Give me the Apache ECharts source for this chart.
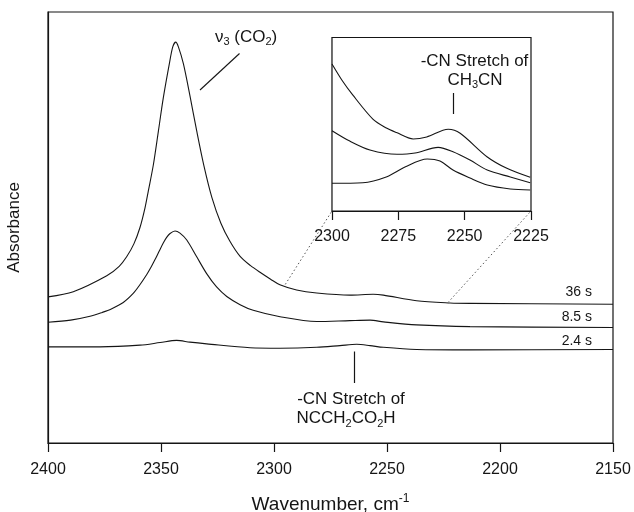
<!DOCTYPE html>
<html>
<head>
<meta charset="utf-8">
<script src="https://cdn.jsdelivr.net/npm/echarts@6/dist/echarts.min.js"></script>
<style>
html,body{margin:0;padding:0;background:#fff;}
#c{width:634px;height:512px;}
</style>
</head>
<body>
<div id="c"></div>
<script>
// Main spectra: [wavenumber (cm-1), absorbance (arb. units)]
const spec36s = [[2400,0.339],[2388.8,0.351],[2374.0,0.388],[2368.5,0.410],[2365.2,0.432],[2362.0,0.462],[2359.3,0.500],[2357.1,0.545],[2355.6,0.585],[2353.4,0.645],[2351.2,0.722],[2349.0,0.800],[2346.3,0.880],[2344.8,0.919],[2343.5,0.930],[2342.3,0.919],[2340.1,0.880],[2337.2,0.806],[2334.2,0.724],[2331.0,0.643],[2327.5,0.570],[2323.5,0.510],[2319.5,0.468],[2315.0,0.433],[2310.5,0.412],[2306.2,0.396],[2301.5,0.380],[2297.4,0.367],[2290.0,0.355],[2281.1,0.348],[2266.4,0.343],[2256.1,0.345],[2251.6,0.343],[2236.9,0.330],[2222.1,0.325],[2213.3,0.324],[2150,0.322]];
const spec8_5s = [[2400,0.280],[2390,0.285],[2381.4,0.294],[2376.0,0.303],[2372.0,0.311],[2366.7,0.326],[2362.3,0.347],[2359.5,0.366],[2356.3,0.391],[2354.5,0.407],[2352.7,0.425],[2351.0,0.443],[2349.0,0.464],[2347.5,0.477],[2346.0,0.486],[2343.8,0.492],[2341.6,0.487],[2338.6,0.471],[2334.2,0.432],[2329.8,0.393],[2325.4,0.362],[2320.9,0.340],[2315.0,0.321],[2309.2,0.308],[2297.3,0.293],[2281.1,0.282],[2266.4,0.284],[2257.5,0.285],[2251.6,0.281],[2236.9,0.274],[2213.3,0.270],[2150,0.268]];
const spec2_4s = [[2400,0.223],[2377,0.223],[2359.3,0.227],[2350.4,0.233],[2343.1,0.238],[2337.2,0.234],[2329.8,0.230],[2310.6,0.221],[2297.3,0.220],[2281.1,0.222],[2270.8,0.226],[2263.4,0.229],[2257.5,0.226],[2251.6,0.222],[2236.9,0.217],[2213.3,0.216],[2150,0.217]];
// Inset (2300-2225 cm-1, rescaled)
const inset36s = [[2300,0.847],[2296.3,0.755],[2292.2,0.669],[2284.5,0.528],[2279.5,0.478],[2275.7,0.452],[2269.4,0.415],[2264.3,0.427],[2256.2,0.471],[2251.7,0.448],[2241.6,0.313],[2234.1,0.246],[2225.3,0.194]];
const inset8_5s = [[2300,0.463],[2293.3,0.403],[2285.7,0.352],[2275.5,0.327],[2268.7,0.334],[2260.0,0.367],[2254.4,0.342],[2248.0,0.294],[2241.5,0.236],[2232.8,0.196],[2225.3,0.163]];
const inset2_4s = [[2300,0.160],[2288.4,0.163],[2279.3,0.198],[2272.5,0.254],[2264.1,0.300],[2259.3,0.288],[2254.4,0.236],[2248.0,0.190],[2241.5,0.150],[2232.8,0.127],[2225.3,0.121]];
const seriesNames = ['36 s','8.5 s','2.4 s'];
const mainTicks = [2400,2350,2300,2250,2200,2150];
const insetTicks = [2300,2275,2250,2225];
// connector anchors: main-plot point and inset corner
const connMain = [[2295,0.368],[2223,0.326]];
const connInset = [[2300,0],[2225,0]];

const FONT = '"Liberation Sans", Arial, Helvetica, sans-serif';
const INK = '#151515';
const chart = echarts.init(document.getElementById('c'), null, {renderer:'canvas'});

function lineSeries(name, data, xi, yi){
  return {name, type:'line', xAxisIndex:xi, yAxisIndex:yi, data, showSymbol:false, smooth:0.3,
    lineStyle:{color:INK, width:1.1}, silent:true, z:3, animation:false};
}

chart.setOption({
  animation:false,
  backgroundColor:'#fff',
  textStyle:{fontFamily:FONT, color:INK},
  grid:[
    {left:48, right:21, top:12, bottom:69, show:true, borderColor:INK, borderWidth:1.2, backgroundColor:'#fff', outerBoundsMode:'none', containLabel:false},
    {left:332, right:103, top:37.5, bottom:301, show:true, borderColor:INK, borderWidth:1.2, backgroundColor:'#fff', z:1, outerBoundsMode:'none', containLabel:false}
  ],
  xAxis:[
    {type:'value', gridIndex:0, min:2150, max:2400, interval:50, inverse:true,
     axisLine:{show:true, lineStyle:{color:INK, width:1.2}},
     axisTick:{show:true, inside:false, length:9, lineStyle:{color:INK, width:1.2}},
     axisLabel:{fontSize:16, margin:19, color:INK, fontFamily:FONT, formatter:v=>mainTicks.includes(v)?String(v):''},
     splitLine:{show:false},
     name:'{a|Wavenumber, cm}{p|-1}', nameLocation:'middle', nameGap:50,
     nameTextStyle:{rich:{a:{fontSize:19, fontFamily:FONT, color:INK}, p:{fontSize:12, fontFamily:FONT, color:INK, padding:[0,0,12,0]}}}},
    {type:'value', gridIndex:1, min:2225, max:2300, interval:25, inverse:true,
     axisLine:{show:true, lineStyle:{color:INK, width:1.2}},
     axisTick:{show:true, inside:false, length:9, lineStyle:{color:INK, width:1.2}},
     axisLabel:{fontSize:16, margin:18, color:INK, fontFamily:FONT, formatter:v=>insetTicks.includes(v)?String(v):''},
     splitLine:{show:false}}
  ],
  yAxis:[
    {type:'value', gridIndex:0, min:0, max:1, axisLine:{show:true, lineStyle:{color:INK, width:1.2}},
     axisTick:{show:false}, axisLabel:{show:false}, splitLine:{show:false},
     name:'Absorbance', nameLocation:'middle', nameGap:25,
     nameTextStyle:{fontSize:17, fontFamily:FONT, color:INK}},
    {type:'value', gridIndex:1, min:0, max:1, axisLine:{show:true, lineStyle:{color:INK, width:1.2}},
     axisTick:{show:false}, axisLabel:{show:false}, splitLine:{show:false}}
  ],
  series:[
    lineSeries(seriesNames[0], spec36s, 0, 0),
    lineSeries(seriesNames[1], spec8_5s, 0, 0),
    lineSeries(seriesNames[2], spec2_4s, 0, 0),
    lineSeries(seriesNames[0]+' inset', inset36s, 1, 1),
    lineSeries(seriesNames[1]+' inset', inset8_5s, 1, 1),
    lineSeries(seriesNames[2]+' inset', inset2_4s, 1, 1)
  ]
});

// annotations
const graphics = [];
for (let i=0;i<connMain.length;i++){
  const a = chart.convertToPixel({gridIndex:0}, connMain[i]);
  const b = chart.convertToPixel({gridIndex:1}, connInset[i]);
  graphics.push({type:'line', shape:{x1:a[0], y1:a[1], x2:b[0], y2:b[1]},
    style:{stroke:'#555', lineWidth:1, lineDash:[1.5,2.5]}, z:5, silent:true});
}
const txt = (x, y, text, rich, align) => ({type:'text', x, y, z:10, silent:true,
  style:{text, rich, fill:INK, font:'17px '+FONT, align:align||'center', verticalAlign:'middle'}});
const R = {a:{fontSize:17, fontFamily:FONT, color:INK}, s:{fontSize:11, fontFamily:FONT, color:INK, padding:[10,0,0,0]}};

graphics.push(txt(215, 37, '{a|ν}{s|3}{a| (CO}{s|2}{a|)}', R, 'left'));
graphics.push({type:'line', shape:{x1:239.5, y1:53.5, x2:200, y2:90}, style:{stroke:INK, lineWidth:1.1}, silent:true, z:5});

graphics.push(txt(474.5, 61, '{a|-CN Stretch of}', R));
graphics.push(txt(475, 80, '{a|CH}{s|3}{a|CN}', R));
graphics.push({type:'line', shape:{x1:453.5, y1:93, x2:453.5, y2:114}, style:{stroke:INK, lineWidth:1.2}, silent:true, z:5});

graphics.push(txt(351, 399.5, '{a|-CN Stretch of}', R));
graphics.push(txt(346, 418.5, '{a|NCCH}{s|2}{a|CO}{s|2}{a|H}', R));
graphics.push({type:'line', shape:{x1:354.5, y1:351.5, x2:354.5, y2:383}, style:{stroke:INK, lineWidth:1.2}, silent:true, z:5});

const labelY = [291.7, 316.7, 340.7];
seriesNames.forEach((n,i)=>{
  graphics.push({type:'text', x:592, y:labelY[i], z:10, silent:true,
    style:{text:n, fill:INK, font:'14px '+FONT, align:'right', verticalAlign:'middle'}});
});
chart.setOption({graphic:graphics});
</script>
</body>
</html>
